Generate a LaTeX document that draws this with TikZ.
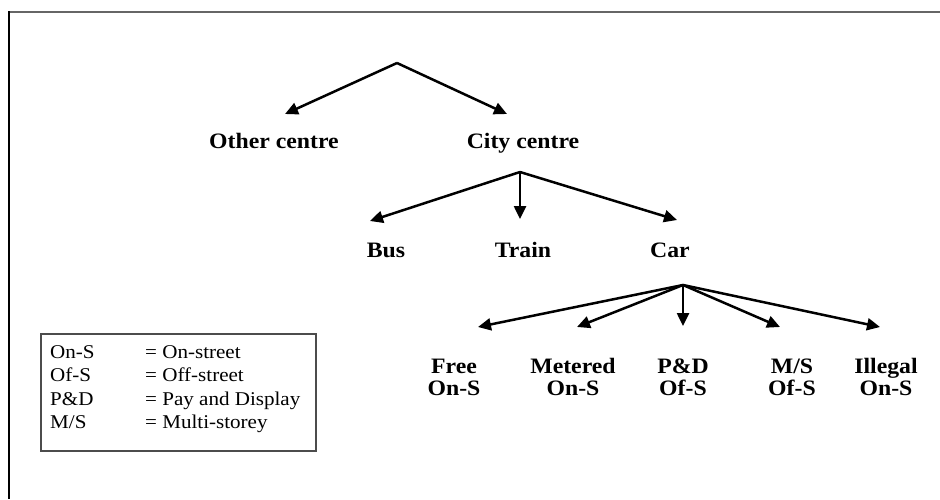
\documentclass[tikz,border=0pt]{standalone}
\usepackage{fontspec}
\setmainfont{Liberation Serif}[FakeStretch=1.08]
\newfontfamily\lblfont{Liberation Serif Bold}[FakeStretch=1.08]
\usetikzlibrary{arrows.meta}
\begin{document}
\begin{tikzpicture}[x=1pt,y=-1pt,
  lbl/.style={font=\lblfont\fontsize{22}{22}\selectfont, inner sep=0pt, align=center},
  key/.style={font=\fontsize{19.5}{20}\selectfont, inner sep=0pt, anchor=base west},
  arr/.style={line width=2.5pt, line join=round, -{Triangle[length=13pt,width=12pt]}}]
\useasboundingbox (0,0) rectangle (940,499);
\fill[white] (0,0) rectangle (940,499);
% frame
\draw[black!60, line width=2pt] (8,12) -- (940,12);
\draw[black, line width=2pt] (9,11) -- (9,499);

% first level
\coordinate (a0) at (397,63);
\node[lbl, anchor=base] (other) at (274,148) {Other centre};
\node[lbl, anchor=base] (city) at (523,148) {City centre};
\coordinate (t-other) at (285,114);
\coordinate (t-city) at (507,114);
\draw[arr] (a0) -- (t-other);
\draw[arr] (a0) -- (t-city);

% second level
\coordinate (a1) at (520,172);
\node[lbl, anchor=base] (bus) at (386,257) {Bus};
\node[lbl, anchor=base] (train) at (523,257) {Train};
\node[lbl, anchor=base] (car) at (670,257) {Car};
\coordinate (t-bus) at (370,221);
\coordinate (t-train) at (520,219);
\coordinate (t-car) at (677,220);
\draw[arr] (a1) -- (t-bus);
\draw[arr] (a1) -- (t-train);
\draw[arr] (a1) -- (t-car);

% parking types (base anchor sits on the second line)
\coordinate (a2) at (683,285);
\node[lbl, anchor=base] (free) at (454,395) {Free\\On-S};
\node[lbl, anchor=base] (meter) at (573,395) {Metered\\On-S};
\node[lbl, anchor=base] (pd) at (683,395) {P\&D\\Of-S};
\node[lbl, anchor=base] (ms) at (792,395) {M/S\\Of-S};
\node[lbl, anchor=base] (illegal) at (886,395) {Illegal\\On-S};
\coordinate (t-free) at (478,327);
\coordinate (t-meter) at (577,327);
\coordinate (t-pd) at (683,326);
\coordinate (t-ms) at (780,327);
\coordinate (t-illegal) at (880,327);
\foreach \t in {free,meter,pd,ms,illegal}
  \draw[arr] (a2) -- (t-\t);

% key
\node[draw=black!70, line width=1.5pt, inner sep=0pt, minimum width=275pt, minimum height=117pt, anchor=north west] (keybox) at (40,333) {};
\node[key] (k1a) at (50,358) {On-S};
\node[key] (k1b) at (145,358) {= On-street};
\node[key] (k2a) at (50,381.5) {Of-S};
\node[key] (k2b) at (145,381.5) {= Off-street};
\node[key] (k3a) at (50,405) {P\&D};
\node[key] (k3b) at (145,405) {= Pay and Display};
\node[key] (k4a) at (50,428.5) {M/S};
\node[key] (k4b) at (145,428.5) {= Multi-storey};
\end{tikzpicture}
\end{document}
